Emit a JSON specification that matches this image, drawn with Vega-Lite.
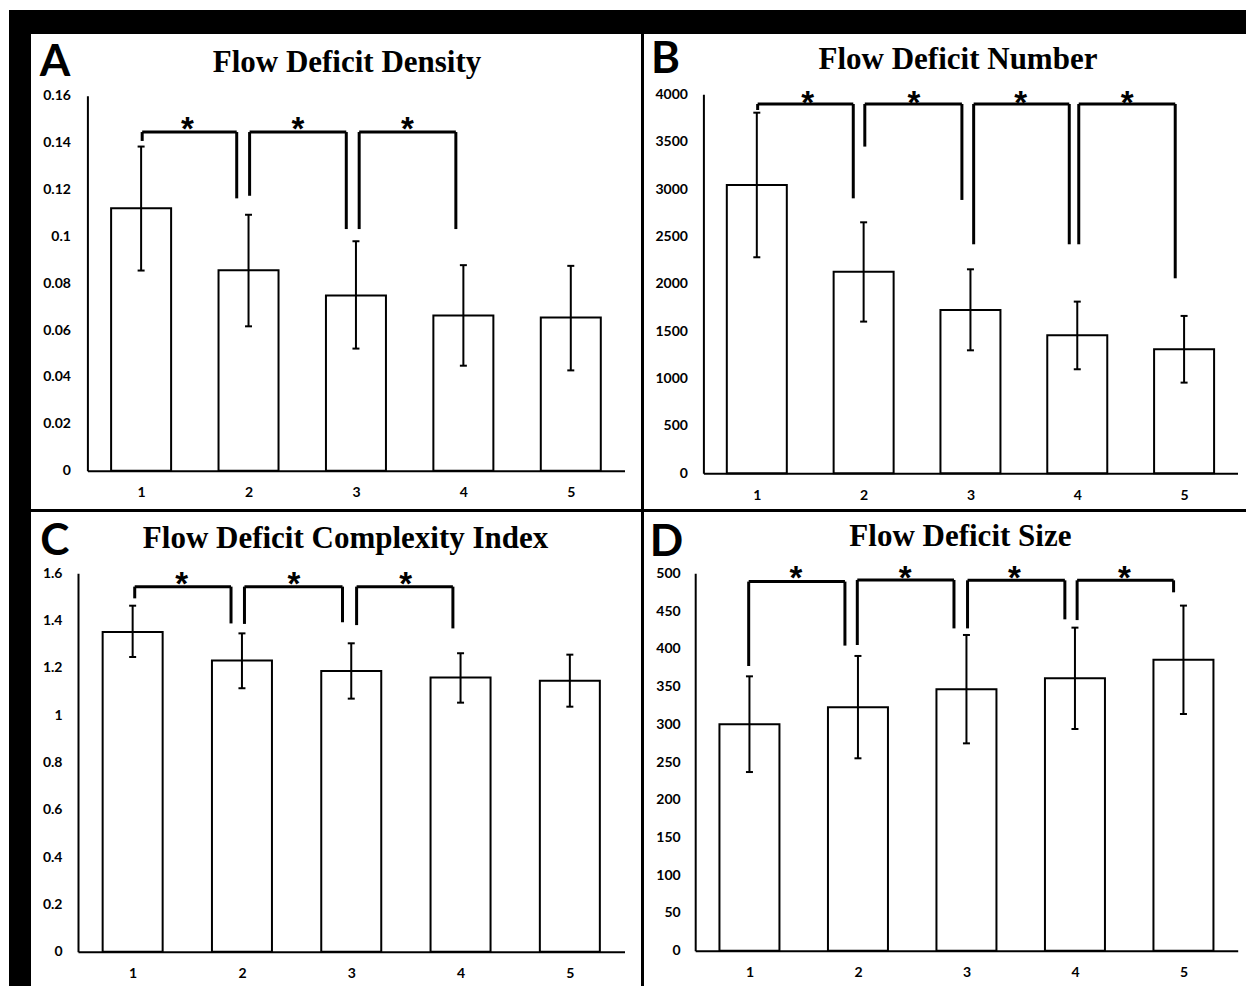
{
  "$schema": "https://vega.github.io/schema/vega-lite/v6.json",
  "padding": {"left": 9, "top": 10, "right": 0, "bottom": 0},
  "background": "white",
  "config": {
    "view": {"stroke": null},
    "concat": {"spacing": 0},
    "axis": {"domainColor": "black", "domainWidth": 2, "ticks": false, "tickSize": 0, "grid": false, "labelFont": "Lato", "labelFontWeight": "bold", "labelFontSize": 14, "labelColor": "black", "labelFlush": false, "labelOverlap": false, "minExtent": 0, "titleFont": "Lato", "titleFontWeight": "bold", "titleFontSize": 44, "titleColor": "black"},
    "axisY": {"titleAngle": 0, "titleAlign": "left", "titleBaseline": "alphabetic", "labelPadding": 16},
    "axisX": {"labelPadding": 15},
    "title": {"font": "Liberation Serif", "fontSize": 31, "fontWeight": "bold", "color": "black", "anchor": "middle", "frame": "group", "baseline": "alphabetic", "offset": 0}
  },
  "datasets": {
    "barsA": [
      {"group": 1, "mean": 0.112, "lo": 0.0854, "hi": 0.1383},
      {"group": 2, "mean": 0.0855, "lo": 0.0616, "hi": 0.1092},
      {"group": 3, "mean": 0.0748, "lo": 0.0521, "hi": 0.0979},
      {"group": 4, "mean": 0.0662, "lo": 0.0448, "hi": 0.0877},
      {"group": 5, "mean": 0.0654, "lo": 0.0428, "hi": 0.0874}
    ],
    "brA": [
      {"xl": 1.01, "xr": 1.89, "top": 0.1445, "lb": 0.1407, "rb": 0.1162, "sx": 1.43, "sy": 0.1485},
      {"xl": 2.01, "xr": 2.91, "top": 0.1445, "lb": 0.1173, "rb": 0.1031, "sx": 2.46, "sy": 0.1485},
      {"xl": 3.03, "xr": 3.93, "top": 0.1445, "lb": 0.1031, "rb": 0.1031, "sx": 3.48, "sy": 0.1485}
    ],
    "barsB": [
      {"group": 1, "mean": 3043, "lo": 2280, "hi": 3806},
      {"group": 2, "mean": 2128, "lo": 1601, "hi": 2649},
      {"group": 3, "mean": 1724, "lo": 1298, "hi": 2153},
      {"group": 4, "mean": 1456, "lo": 1098, "hi": 1812},
      {"group": 5, "mean": 1309, "lo": 957, "hi": 1661}
    ],
    "brB": [
      {"xl": 1.008, "xr": 1.903, "top": 3898, "lb": 3834, "rb": 2902, "sx": 1.477, "sy": 3975},
      {"xl": 2.011, "xr": 2.92, "top": 3898, "lb": 3448, "rb": 2885, "sx": 2.47, "sy": 3975},
      {"xl": 3.03, "xr": 3.925, "top": 3898, "lb": 2417, "rb": 2417, "sx": 3.47, "sy": 3975},
      {"xl": 4.014, "xr": 4.917, "top": 3898, "lb": 2417, "rb": 2058, "sx": 4.466, "sy": 3975}
    ],
    "barsC": [
      {"group": 1, "mean": 1.352, "lo": 1.246, "hi": 1.463},
      {"group": 2, "mean": 1.231, "lo": 1.114, "hi": 1.346},
      {"group": 3, "mean": 1.187, "lo": 1.07, "hi": 1.304},
      {"group": 4, "mean": 1.159, "lo": 1.053, "hi": 1.262},
      {"group": 5, "mean": 1.146, "lo": 1.036, "hi": 1.256}
    ],
    "brC": [
      {"xl": 1.019, "xr": 1.9, "top": 1.5436, "lb": 1.494, "rb": 1.388, "sx": 1.448, "sy": 1.579},
      {"xl": 2.023, "xr": 2.92, "top": 1.5436, "lb": 1.386, "rb": 1.393, "sx": 2.476, "sy": 1.579},
      {"xl": 3.049, "xr": 3.93, "top": 1.5436, "lb": 1.381, "rb": 1.367, "sx": 3.499, "sy": 1.579}
    ],
    "barsD": [
      {"group": 1, "mean": 299.9, "lo": 236.7, "hi": 363.5},
      {"group": 2, "mean": 322.4, "lo": 254.9, "hi": 390.5},
      {"group": 3, "mean": 346.3, "lo": 274.7, "hi": 418.3},
      {"group": 4, "mean": 360.9, "lo": 293.7, "hi": 428},
      {"group": 5, "mean": 385.6, "lo": 313.6, "hi": 457.2}
    ],
    "brD": [
      {"xl": 0.993, "xr": 1.88, "top": 489, "lb": 377.2, "rb": 404.2, "sx": 1.429, "sy": 502},
      {"xl": 1.994, "xr": 2.885, "top": 491.2, "lb": 405, "rb": 427, "sx": 2.435, "sy": 502},
      {"xl": 3.01, "xr": 3.907, "top": 490.7, "lb": 427, "rb": 439, "sx": 3.443, "sy": 502},
      {"xl": 4.02, "xr": 4.909, "top": 490.7, "lb": 438, "rb": 474.8, "sx": 4.455, "sy": 502}
    ]
  },
  "spacing": 0,
  "vconcat": [
    {"width": 1237, "height": 24, "view": {"fill": "black", "stroke": null}, "data": {"values": []}, "mark": {"type": "rect", "opacity": 0}, "encoding": {}},
    {
      "spacing": 0,
      "hconcat": [
        {"width": 22, "height": 952, "view": {"fill": "black", "stroke": null}, "data": {"values": []}, "mark": {"type": "rect", "opacity": 0}, "encoding": {}},
        {
          "spacing": 0,
          "vconcat": [
            {
              "spacing": 0,
              "hconcat": [
                {
                  "width": 610, "height": 475,
                  "title": {"text": "Flow Deficit Density", "dx": 11, "dy": 49.3},
                  "layer": [
                    {"data": {"name": "barsA"}, "mark": {"type": "bar", "orient": "vertical", "fill": "white", "stroke": "black", "strokeWidth": 2, "width": 60},
                     "encoding": {
                       "x": {"field": "group", "type": "quantitative", "scale": {"domain": [0.5, 5.5], "range": [56.4, 593.5], "padding": 0, "nice": false, "zero": false}, "axis": {"values": [1, 2, 3, 4, 5], "format": "d", "title": null, "offset": -38.3}},
                       "y": {"field": "mean", "type": "quantitative", "scale": {"domain": [0, 0.16], "range": [436.7, 61.7], "padding": 0, "nice": false, "zero": false}, "axis": {"values": [0, 0.02, 0.04, 0.06, 0.08, 0.1, 0.12, 0.14, 0.16], "format": "~g", "title": "A", "offset": -56.4, "titleX": -48.1, "titleY": 41, "labelPadding": 17}}
                     }},
                    {"data": {"name": "barsA"}, "mark": {"type": "rule", "strokeWidth": 2, "color": "black"},
                     "encoding": {"x": {"field": "group", "type": "quantitative"}, "y": {"field": "lo", "type": "quantitative"}, "y2": {"field": "hi"}}},
                    {"data": {"name": "barsA"}, "mark": {"type": "tick", "orient": "horizontal", "size": 7, "thickness": 2, "color": "black", "opacity": 1},
                     "encoding": {"x": {"field": "group", "type": "quantitative"}, "y": {"field": "hi", "type": "quantitative"}}},
                    {"data": {"name": "barsA"}, "mark": {"type": "tick", "orient": "horizontal", "size": 7, "thickness": 2, "color": "black", "opacity": 1},
                     "encoding": {"x": {"field": "group", "type": "quantitative"}, "y": {"field": "lo", "type": "quantitative"}}},
                    {"data": {"name": "brA"}, "mark": {"type": "rule", "strokeWidth": 3, "color": "black"},
                     "encoding": {"x": {"field": "xl", "type": "quantitative"}, "x2": {"field": "xr"}, "y": {"field": "top", "type": "quantitative"}}},
                    {"data": {"name": "brA"}, "mark": {"type": "rule", "strokeWidth": 3, "color": "black"},
                     "encoding": {"x": {"field": "xl", "type": "quantitative"}, "y": {"field": "top", "type": "quantitative"}, "y2": {"field": "lb"}}},
                    {"data": {"name": "brA"}, "mark": {"type": "rule", "strokeWidth": 3, "color": "black"},
                     "encoding": {"x": {"field": "xr", "type": "quantitative"}, "y": {"field": "top", "type": "quantitative"}, "y2": {"field": "rb"}}},
                    {"data": {"name": "brA"}, "mark": {"type": "text", "text": "*", "font": "Liberation Sans", "fontWeight": "bold", "fontSize": 33, "baseline": "middle", "dy": 7, "color": "black"},
                     "encoding": {"x": {"field": "sx", "type": "quantitative"}, "y": {"field": "sy", "type": "quantitative"}}}
                  ]
                },
                {"width": 3, "height": 475, "view": {"fill": "black", "stroke": null}, "data": {"values": []}, "mark": {"type": "rect", "opacity": 0}, "encoding": {}},
                {
                  "width": 602, "height": 475,
                  "title": {"text": "Flow Deficit Number", "dx": 13, "dy": 45.7},
                  "layer": [
                    {"data": {"name": "barsB"}, "mark": {"type": "bar", "orient": "vertical", "fill": "white", "stroke": "black", "strokeWidth": 2, "width": 60},
                     "encoding": {
                       "x": {"field": "group", "type": "quantitative", "scale": {"domain": [0.5, 5.5], "range": [59.4, 593.5], "padding": 0, "nice": false, "zero": false}, "axis": {"values": [1, 2, 3, 4, 5], "format": "d", "title": null, "offset": -35.7}},
                       "y": {"field": "mean", "type": "quantitative", "scale": {"domain": [0, 4000], "range": [439.3, 60.3], "padding": 0, "nice": false, "zero": false}, "axis": {"values": [0, 500, 1000, 1500, 2000, 2500, 3000, 3500, 4000], "format": "d", "title": "B", "offset": -59.4, "titleX": -53, "titleY": 38, "labelPadding": 16}}
                     }},
                    {"data": {"name": "barsB"}, "mark": {"type": "rule", "strokeWidth": 2, "color": "black"},
                     "encoding": {"x": {"field": "group", "type": "quantitative"}, "y": {"field": "lo", "type": "quantitative"}, "y2": {"field": "hi"}}},
                    {"data": {"name": "barsB"}, "mark": {"type": "tick", "orient": "horizontal", "size": 7, "thickness": 2, "color": "black", "opacity": 1},
                     "encoding": {"x": {"field": "group", "type": "quantitative"}, "y": {"field": "hi", "type": "quantitative"}}},
                    {"data": {"name": "barsB"}, "mark": {"type": "tick", "orient": "horizontal", "size": 7, "thickness": 2, "color": "black", "opacity": 1},
                     "encoding": {"x": {"field": "group", "type": "quantitative"}, "y": {"field": "lo", "type": "quantitative"}}},
                    {"data": {"name": "brB"}, "mark": {"type": "rule", "strokeWidth": 3, "color": "black"},
                     "encoding": {"x": {"field": "xl", "type": "quantitative"}, "x2": {"field": "xr"}, "y": {"field": "top", "type": "quantitative"}}},
                    {"data": {"name": "brB"}, "mark": {"type": "rule", "strokeWidth": 3, "color": "black"},
                     "encoding": {"x": {"field": "xl", "type": "quantitative"}, "y": {"field": "top", "type": "quantitative"}, "y2": {"field": "lb"}}},
                    {"data": {"name": "brB"}, "mark": {"type": "rule", "strokeWidth": 3, "color": "black"},
                     "encoding": {"x": {"field": "xr", "type": "quantitative"}, "y": {"field": "top", "type": "quantitative"}, "y2": {"field": "rb"}}},
                    {"data": {"name": "brB"}, "mark": {"type": "text", "text": "*", "font": "Liberation Sans", "fontWeight": "bold", "fontSize": 33, "baseline": "middle", "dy": 7, "color": "black"},
                     "encoding": {"x": {"field": "sx", "type": "quantitative"}, "y": {"field": "sy", "type": "quantitative"}}}
                  ]
                }
              ]
            },
            {"width": 1215, "height": 3, "view": {"fill": "black", "stroke": null}, "data": {"values": []}, "mark": {"type": "rect", "opacity": 0}, "encoding": {}},
            {
              "spacing": 0,
              "hconcat": [
                {
                  "width": 610, "height": 474,
                  "title": {"text": "Flow Deficit Complexity Index", "dx": 9.6, "dy": 47.3},
                  "layer": [
                    {"data": {"name": "barsC"}, "mark": {"type": "bar", "orient": "vertical", "fill": "white", "stroke": "black", "strokeWidth": 2, "width": 60},
                     "encoding": {
                       "x": {"field": "group", "type": "quantitative", "scale": {"domain": [0.5, 5.5], "range": [47, 593.5], "padding": 0, "nice": false, "zero": false}, "axis": {"values": [1, 2, 3, 4, 5], "format": "d", "title": null, "offset": -34.3}},
                       "y": {"field": "mean", "type": "quantitative", "scale": {"domain": [0, 1.6], "range": [439.7, 61.3], "padding": 0, "nice": false, "zero": false}, "axis": {"values": [0, 0.2, 0.4, 0.6, 0.8, 1, 1.2, 1.4, 1.6], "format": "~g", "title": "C", "offset": -47, "titleX": -38.2, "titleY": 42, "labelPadding": 16}}
                     }},
                    {"data": {"name": "barsC"}, "mark": {"type": "rule", "strokeWidth": 2, "color": "black"},
                     "encoding": {"x": {"field": "group", "type": "quantitative"}, "y": {"field": "lo", "type": "quantitative"}, "y2": {"field": "hi"}}},
                    {"data": {"name": "barsC"}, "mark": {"type": "tick", "orient": "horizontal", "size": 7, "thickness": 2, "color": "black", "opacity": 1},
                     "encoding": {"x": {"field": "group", "type": "quantitative"}, "y": {"field": "hi", "type": "quantitative"}}},
                    {"data": {"name": "barsC"}, "mark": {"type": "tick", "orient": "horizontal", "size": 7, "thickness": 2, "color": "black", "opacity": 1},
                     "encoding": {"x": {"field": "group", "type": "quantitative"}, "y": {"field": "lo", "type": "quantitative"}}},
                    {"data": {"name": "brC"}, "mark": {"type": "rule", "strokeWidth": 3, "color": "black"},
                     "encoding": {"x": {"field": "xl", "type": "quantitative"}, "x2": {"field": "xr"}, "y": {"field": "top", "type": "quantitative"}}},
                    {"data": {"name": "brC"}, "mark": {"type": "rule", "strokeWidth": 3, "color": "black"},
                     "encoding": {"x": {"field": "xl", "type": "quantitative"}, "y": {"field": "top", "type": "quantitative"}, "y2": {"field": "lb"}}},
                    {"data": {"name": "brC"}, "mark": {"type": "rule", "strokeWidth": 3, "color": "black"},
                     "encoding": {"x": {"field": "xr", "type": "quantitative"}, "y": {"field": "top", "type": "quantitative"}, "y2": {"field": "rb"}}},
                    {"data": {"name": "brC"}, "mark": {"type": "text", "text": "*", "font": "Liberation Sans", "fontWeight": "bold", "fontSize": 33, "baseline": "middle", "dy": 7, "color": "black"},
                     "encoding": {"x": {"field": "sx", "type": "quantitative"}, "y": {"field": "sy", "type": "quantitative"}}}
                  ]
                },
                {"width": 3, "height": 474, "view": {"fill": "black", "stroke": null}, "data": {"values": []}, "mark": {"type": "rect", "opacity": 0}, "encoding": {}},
                {
                  "width": 602, "height": 474,
                  "title": {"text": "Flow Deficit Size", "dx": 15.4, "dy": 45.3},
                  "layer": [
                    {"data": {"name": "barsD"}, "mark": {"type": "bar", "orient": "vertical", "fill": "white", "stroke": "black", "strokeWidth": 2, "width": 60},
                     "encoding": {
                       "x": {"field": "group", "type": "quantitative", "scale": {"domain": [0.5, 5.5], "range": [51.2, 593.7], "padding": 0, "nice": false, "zero": false}, "axis": {"values": [1, 2, 3, 4, 5], "format": "d", "title": null, "offset": -35.3}},
                       "y": {"field": "mean", "type": "quantitative", "scale": {"domain": [0, 500], "range": [438.7, 61.3], "padding": 0, "nice": false, "zero": false}, "axis": {"values": [0, 50, 100, 150, 200, 250, 300, 350, 400, 450, 500], "format": "d", "title": "D", "offset": -51.2, "titleX": -46, "titleY": 43, "labelPadding": 15}}
                     }},
                    {"data": {"name": "barsD"}, "mark": {"type": "rule", "strokeWidth": 2, "color": "black"},
                     "encoding": {"x": {"field": "group", "type": "quantitative"}, "y": {"field": "lo", "type": "quantitative"}, "y2": {"field": "hi"}}},
                    {"data": {"name": "barsD"}, "mark": {"type": "tick", "orient": "horizontal", "size": 7, "thickness": 2, "color": "black", "opacity": 1},
                     "encoding": {"x": {"field": "group", "type": "quantitative"}, "y": {"field": "hi", "type": "quantitative"}}},
                    {"data": {"name": "barsD"}, "mark": {"type": "tick", "orient": "horizontal", "size": 7, "thickness": 2, "color": "black", "opacity": 1},
                     "encoding": {"x": {"field": "group", "type": "quantitative"}, "y": {"field": "lo", "type": "quantitative"}}},
                    {"data": {"name": "brD"}, "mark": {"type": "rule", "strokeWidth": 3, "color": "black"},
                     "encoding": {"x": {"field": "xl", "type": "quantitative"}, "x2": {"field": "xr"}, "y": {"field": "top", "type": "quantitative"}}},
                    {"data": {"name": "brD"}, "mark": {"type": "rule", "strokeWidth": 3, "color": "black"},
                     "encoding": {"x": {"field": "xl", "type": "quantitative"}, "y": {"field": "top", "type": "quantitative"}, "y2": {"field": "lb"}}},
                    {"data": {"name": "brD"}, "mark": {"type": "rule", "strokeWidth": 3, "color": "black"},
                     "encoding": {"x": {"field": "xr", "type": "quantitative"}, "y": {"field": "top", "type": "quantitative"}, "y2": {"field": "rb"}}},
                    {"data": {"name": "brD"}, "mark": {"type": "text", "text": "*", "font": "Liberation Sans", "fontWeight": "bold", "fontSize": 33, "baseline": "middle", "dy": 7, "color": "black"},
                     "encoding": {"x": {"field": "sx", "type": "quantitative"}, "y": {"field": "sy", "type": "quantitative"}}}
                  ]
                }
              ]
            }
          ]
        }
      ]
    }
  ]
}
